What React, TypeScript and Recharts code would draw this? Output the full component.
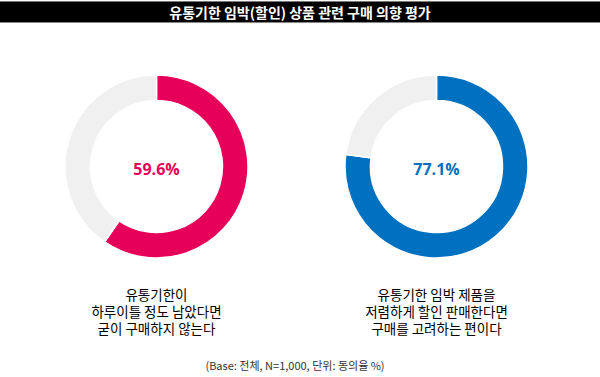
import { PieChart, Pie, Cell } from "recharts";

const title = "유통기한 임박(할인) 상품 관련 구매 의향 평가";
const footnote = "(Base: 전체, N=1,000, 단위: 동의율 %)";

const agreeRates = [59.6, 77.1];
const sliceColors = ["#E6005A", "#0070C0"];
const restColor = "#F0F0F0";
const captions = [
  ["유통기한이", "하루이틀 정도 남았다면", "굳이 구매하지 않는다"],
  ["유통기한 임박 제품을", "저렴하게 할인 판매한다면", "구매를 고려하는 편이다"],
];

const centersX = [156.5, 436.5];
const centerY = 166.5;
const fontKr = '"Noto Sans CJK KR", "Noto Sans", sans-serif';

export default function App() {
  return (
    <div
      style={{
        position: "absolute",
        left: 0,
        top: 0,
        width: 600,
        height: 377,
        background: "#fff",
        fontFamily: fontKr,
        overflow: "hidden",
      }}
    >
      <div
        style={{
          position: "absolute",
          left: 0,
          top: 1,
          width: 600,
          height: 22,
          background: "#000",
          borderTop: "1px solid #777",
          borderBottom: "1px solid #888",
          boxSizing: "border-box",
          color: "#fff",
          fontSize: 14,
          fontWeight: 700,
          lineHeight: "20px",
          textAlign: "center",
        }}
      >
        {title}
      </div>

      <div style={{ position: "absolute", left: 0, top: 0 }}>
        <PieChart width={600} height={377} margin={{ top: 0, right: 0, bottom: 0, left: 0 }}>
          {agreeRates.map((rate, i) => (
            <Pie
              key={i}
              data={[
                { name: "동의", value: rate },
                { name: "기타", value: 100 - rate },
              ]}
              dataKey="value"
              cx={centersX[i]}
              cy={centerY}
              innerRadius={66}
              outerRadius={91.5}
              startAngle={90}
              endAngle={-270}
              stroke="#fff"
              strokeWidth={1.5}
              isAnimationActive={false}
            >
              <Cell fill={sliceColors[i]} />
              <Cell fill={restColor} />
            </Pie>
          ))}
        </PieChart>
      </div>

      {agreeRates.map((rate, i) => (
        <div
          key={"c" + i}
          style={{
            position: "absolute",
            left: centersX[i] - 50,
            top: centerY - 9,
            width: 100,
            height: 22,
            lineHeight: "22px",
            textAlign: "center",
            color: sliceColors[i],
            fontSize: 16,
            fontWeight: 700,
            fontFamily: '"Open Sans", sans-serif',
          }}
        >
          {rate}%
        </div>
      ))}

      {captions.map((lines, i) => (
        <div
          key={i}
          style={{
            position: "absolute",
            left: centersX[i] - 110,
            top: 285.5,
            width: 220,
            textAlign: "center",
            fontSize: 13.5,
            lineHeight: "17px",
            color: "#000",
          }}
        >
          {lines.map((l, j) => (
            <div key={j}>{l}</div>
          ))}
        </div>
      ))}

      <div
        style={{
          position: "absolute",
          left: 0,
          top: 357,
          width: 590,
          textAlign: "center",
          fontSize: 11,
          lineHeight: "16px",
          color: "#333",
        }}
      >
        {footnote}
      </div>
    </div>
  );
}
